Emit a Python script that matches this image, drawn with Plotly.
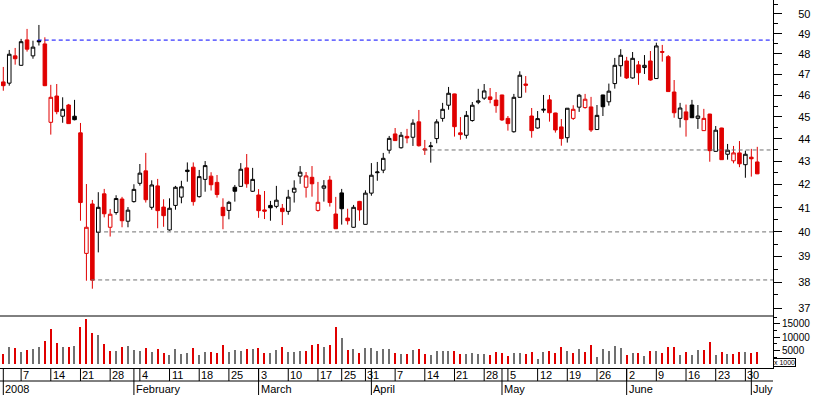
import math
import pandas as pd
import plotly.graph_objects as go

# ---------------- data ----------------
holidays = ["2008-03-21", "2008-03-24", "2008-05-01"]
dates = [d for d in pd.bdate_range("2008-01-02", "2008-07-02")
         if d.strftime("%Y-%m-%d") not in holidays]

opens = [46.64, 46.58, 47.90, 47.44, 48.69, 47.90, 48.65, 48.49, 44.75, 45.97,
         45.03, 45.55, 45.03, 44.27, 39.13, 41.16, 39.98, 41.59, 40.19, 40.80,
         41.37, 40.44, 41.26, 42.04, 42.58, 41.02, 41.93, 41.03, 40.08, 41.10,
         41.45, 42.55, 42.74, 41.47, 42.21, 42.35, 42.08, 41.02, 40.89, 41.87,
         41.91, 42.71, 41.70, 41.54, 40.91, 41.10, 41.06, 40.98, 40.85, 41.66,
         42.35, 41.87, 42.30, 40.89, 41.83, 42.18, 40.74, 41.63, 40.57, 40.19,
         41.27, 40.31, 41.62, 42.50, 42.61, 43.49, 44.22, 43.60, 44.11, 44.07,
         44.77, 43.55, 43.65, 44.01, 44.93, 45.54, 46.07, 44.27, 44.16, 44.83,
         45.68, 45.87, 45.93, 45.78, 46.02, 44.93, 44.32, 45.91, 46.54, 45.04,
         44.49, 45.31, 45.79, 45.18, 44.54, 44.05, 44.93, 45.45, 45.43, 45.46,
         44.42, 46.02, 45.70, 46.56, 47.42, 47.65, 46.83, 47.46, 47.33, 47.65,
         46.80, 48.11, 47.86, 46.16, 44.93, 45.23, 45.55, 44.93, 44.37, 45.13,
         43.44, 44.49, 43.31, 43.02, 43.37, 42.85, 43.18, 42.97]

highs = [47.36, 48.19, 48.29, 48.74, 49.24, 48.65, 49.44, 48.82, 46.50, 46.54,
         45.91, 45.60, 45.79, 44.72, 42.01, 41.33, 41.66, 41.80, 40.95, 41.53,
         41.46, 41.03, 42.00, 42.88, 43.37, 42.17, 42.23, 41.36, 41.40, 41.93,
         42.15, 42.95, 42.95, 42.62, 43.01, 42.52, 42.40, 41.40, 41.29, 41.97,
         42.92, 43.32, 42.71, 41.79, 41.71, 41.29, 41.93, 41.16, 41.76, 42.17,
         42.79, 42.53, 42.79, 42.10, 42.18, 42.36, 41.46, 41.80, 40.96, 41.12,
         41.29, 41.74, 42.92, 42.97, 43.37, 44.13, 44.49, 44.31, 44.45, 44.89,
         45.32, 43.95, 43.86, 44.89, 45.65, 46.40, 46.08, 44.99, 45.27, 45.69,
         46.31, 46.54, 46.35, 46.16, 46.03, 45.04, 46.07, 47.15, 46.92, 45.41,
         45.27, 46.02, 46.02, 45.19, 44.90, 45.41, 45.54, 46.07, 46.07, 45.93,
         45.55, 46.03, 46.56, 47.80, 48.23, 47.85, 48.09, 47.65, 47.94, 48.14,
         48.55, 48.44, 47.94, 46.73, 45.65, 45.57, 45.79, 45.55, 45.37, 45.14,
         44.58, 44.50, 43.77, 43.68, 43.90, 43.47, 43.55, 43.64]

lows = [46.22, 46.46, 47.47, 47.42, 48.11, 47.76, 48.41, 46.44, 44.19, 45.12,
        44.73, 44.68, 44.84, 40.46, 38.05, 37.74, 39.17, 40.60, 39.81, 40.71,
        40.19, 40.19, 41.22, 41.94, 41.22, 40.92, 40.15, 40.21, 40.05, 40.92,
        41.19, 42.11, 41.09, 41.43, 41.68, 41.73, 41.43, 40.11, 40.52, 41.26,
        41.89, 41.85, 41.67, 40.58, 40.53, 40.46, 40.98, 40.28, 40.71, 41.22,
        42.02, 41.43, 41.47, 40.84, 41.26, 41.05, 40.12, 40.30, 40.30, 40.17,
        40.46, 40.30, 41.51, 42.15, 42.48, 43.34, 43.90, 43.56, 43.80, 43.68,
        43.65, 43.28, 42.94, 43.80, 44.78, 45.33, 44.10, 43.96, 44.01, 44.78,
        45.59, 45.79, 45.63, 45.19, 44.81, 44.37, 44.28, 45.89, 46.13, 44.05,
        44.46, 45.19, 44.78, 44.28, 43.69, 43.83, 44.86, 45.23, 45.38, 44.31,
        44.40, 45.04, 45.52, 46.32, 46.89, 46.78, 46.79, 46.50, 47.02, 46.70,
        46.79, 47.62, 46.17, 44.96, 44.51, 44.10, 44.95, 44.45, 44.36, 42.98,
        43.42, 43.06, 43.07, 42.91, 42.74, 42.28, 42.33, 42.44]

closes = [46.46, 47.98, 47.76, 48.60, 48.23, 48.33, 48.60, 46.46, 45.91, 45.24,
          45.35, 44.69, 44.87, 41.22, 40.19, 38.07, 41.02, 40.75, 40.73, 41.39,
          40.46, 40.90, 41.78, 42.48, 41.34, 41.97, 40.88, 40.67, 40.98, 41.87,
          41.89, 42.61, 41.26, 42.33, 42.81, 41.98, 41.56, 40.67, 41.23, 41.70,
          42.65, 42.02, 42.21, 40.88, 40.86, 41.00, 41.32, 40.84, 41.45, 41.83,
          42.52, 42.36, 42.02, 41.23, 41.93, 41.22, 40.13, 40.96, 40.46, 41.02,
          40.91, 41.62, 42.39, 42.53, 43.13, 44.02, 43.92, 44.16, 44.04, 44.71,
          43.69, 43.50, 43.68, 44.77, 45.35, 46.10, 44.55, 44.19, 45.07, 45.54,
          45.74, 46.21, 45.81, 45.52, 44.86, 44.69, 45.91, 46.96, 46.48, 44.37,
          44.92, 45.35, 45.19, 44.40, 44.01, 45.40, 45.35, 46.01, 45.82, 44.40,
          45.07, 45.47, 46.20, 47.44, 47.93, 46.83, 47.78, 47.08, 47.44, 46.73,
          48.39, 48.08, 46.18, 45.19, 45.41, 44.87, 44.96, 45.04, 44.93, 43.47,
          44.39, 43.07, 43.49, 43.37, 42.89, 43.31, 43.11, 42.45]

volumes_k = [3900, 6400, 6000, 4500, 5400, 5600, 6500, 8600, 13100, 7900,
             6400, 6400, 6900, 13900, 16900, 11600, 10900, 7500, 4900, 4900,
             6400, 6900, 5100, 4900, 6000, 4500, 5600, 4100, 3400, 5600,
             3700, 4100, 6000, 3400, 4500, 4500, 4100, 7100, 4500, 5200,
             4900, 5600, 5600, 6000, 4100, 4100, 5200, 6400, 4500, 4500,
             4900, 4900, 7100, 7500, 6400, 7100, 13900, 9700, 5200, 5600,
             4100, 6000, 6000, 4900, 5600, 5600, 4100, 3700, 3800, 5200,
             5600, 3900, 3400, 4900, 4900, 4700, 4900, 3900, 3900, 4300,
             3700, 3600, 3400, 4500, 4100, 3000, 4100, 4100, 3900, 4500,
             1900, 4500, 4900, 4100, 6400, 4900, 4100, 5600, 4500, 7100,
             2600, 5600, 4900, 6700, 6000, 3400, 4100, 4100, 3000, 4900,
             4900, 4100, 6400, 6400, 3400, 4500, 3400, 5200, 5200, 8200,
             3400, 4500, 3700, 3700, 4500, 4500, 4100, 4500]

# horizontal support / resistance levels and the session they start from
level_values = [48.68, 43.50, 40.00, 38.08]
level_starts = ["2008-01-10", "2008-04-14", "2008-01-24", "2008-01-23"]
level_kinds = ["resistance", "support", "support", "support"]

price_ticks = list(range(37, 51))
price_minor = [v + 0.5 for v in range(37, 51)]
volume_ticks = [5000, 10000, 15000]
volume_minor = [2500, 7500, 12500, 17500]
month_names = {1: "2008", 2: "February", 3: "March", 4: "April",
               5: "May", 6: "June", 7: "July"}

# ---------------- derived ----------------
n = len(dates)
idx = list(range(n))
date_str = [d.strftime("%Y-%m-%d") for d in dates]
pos_of = {s: i for i, s in enumerate(date_str)}

RED = "#e00000"
BLACK = "#000000"
GRAY = "#707070"

is_red = [True] + [closes[i] < closes[i - 1] for i in range(1, n)]
is_hollow = [closes[i] > opens[i] for i in range(n)]

fig = go.Figure()

groups = [
    (False, False, "white", BLACK),  # hollow black
    (True, False, "white", RED),     # hollow red
    (True, True, RED, RED),          # filled red
    (False, True, BLACK, BLACK),     # filled black
]
for red, filled, fill, line in groups:
    sel = [i for i in idx if is_red[i] == red and (not is_hollow[i]) == filled]
    if not sel:
        continue
    style = dict(fillcolor=fill, line=dict(color=line, width=1))
    fig.add_trace(go.Candlestick(
        x=sel,
        open=[opens[i] for i in sel],
        high=[highs[i] for i in sel],
        low=[lows[i] for i in sel],
        close=[closes[i] for i in sel],
        text=[date_str[i] for i in sel],
        increasing=style, decreasing=style,
        whiskerwidth=0, showlegend=False,
        xaxis="x", yaxis="y", hoverinfo="text+y",
    ))

fig.add_trace(go.Bar(
    x=idx, y=volumes_k, width=0.2,
    marker=dict(color=[RED if r else GRAY for r in is_red], line=dict(width=0)),
    showlegend=False, xaxis="x", yaxis="y2", hoverinfo="y",
))

# ---------------- geometry ----------------
W, H = 817, 395
ML, MR, MT, MB = 0, 44, 0, 27
PH = H - MT - MB            # 368
pane_split = 52 / PH        # price pane bottom (volume pane height 52px)
x_range = [-0.556, 129.65]

shapes = []
shapes.append(dict(type="line", xref="paper", yref="paper", x0=0, x1=1,
                   y0=pane_split, y1=pane_split, line=dict(color=BLACK, width=1)))
row_rule = -13 / PH
shapes.append(dict(type="line", xref="paper", yref="paper", x0=0, x1=1,
                   y0=row_rule, y1=row_rule, line=dict(color=BLACK, width=1)))

for val, start, kind in zip(level_values, level_starts, level_kinds):
    col = "#0000ff" if kind == "resistance" else "#707070"
    shapes.append(dict(type="line", xref="x", yref="y",
                       x0=pos_of[start] - 0.2, x1=x_range[1] + 2,
                       y0=val, y1=val,
                       line=dict(color=col, width=1, dash="4px,3px")))

annotations = []
week_starts = []
month_starts = []
for i in idx:
    if i == 0:
        month_starts.append(i)
        continue
    if dates[i].month != dates[i - 1].month:
        month_starts.append(i)
    if dates[i].isocalendar()[1] != dates[i - 1].isocalendar()[1]:
        week_starts.append(i)

lab_font = dict(family="Liberation Sans", size=11, color=BLACK)
for i in week_starts:
    shapes.append(dict(type="line", xref="x", yref="paper", x0=i, x1=i,
                       y0=0, y1=row_rule, line=dict(color=BLACK, width=1)))
    annotations.append(dict(x=i, y=-7.0 / PH, xref="x", yref="paper",
                            text=str(dates[i].day), showarrow=False,
                            xanchor="left", yanchor="middle", font=lab_font))
for i in month_starts:
    shapes.append(dict(type="line", xref="x", yref="paper", x0=i, x1=i,
                       y0=0, y1=-30 / PH, line=dict(color=BLACK, width=1)))
    annotations.append(dict(x=i, y=-20.5 / PH, xref="x", yref="paper",
                            text=month_names[dates[i].month], showarrow=False,
                            xanchor="left", yanchor="middle", font=lab_font))

annotations.append(dict(x=1, y=6 / PH, xref="paper", yref="paper", text="x 1000",
                        showarrow=False, xanchor="left", yanchor="middle",
                        font=dict(family="Liberation Sans", size=7, color=BLACK),
                        bordercolor=BLACK, borderwidth=1, borderpad=0,
                        bgcolor="white"))

fig.update_layout(
    width=W, height=H,
    margin=dict(l=ML, r=MR, t=MT, b=MB, pad=0),
    paper_bgcolor="white", plot_bgcolor="white",
    showlegend=False, boxgap=0.4, boxgroupgap=0,
    bargap=0,
    hovermode="closest",
    xaxis=dict(range=x_range, anchor="y2", showgrid=False, zeroline=False,
               showticklabels=False, ticks="", showline=True,
               linecolor=BLACK, linewidth=1,
               rangeslider=dict(visible=False), fixedrange=True),
    yaxis=dict(domain=[pane_split, 1], type="log",
               range=[math.log10(36.70), math.log10(50.72)],
               side="right", anchor="x", showgrid=False, zeroline=False,
               showline=True, linecolor=BLACK, linewidth=1,
               ticks="outside", ticklen=8, tickcolor=BLACK, tickwidth=1,
               tickmode="array", tickvals=price_ticks,
               ticktext=[str(v) for v in price_ticks],
               tickfont=lab_font, ticklabelstandoff=14,
               minor=dict(tickmode="array", tickvals=price_minor, ticks="outside",
                          ticklen=4, tickcolor=BLACK, tickwidth=1, showgrid=False),
               fixedrange=True),
    yaxis2=dict(domain=[0, pane_split], range=[-1500, 17980],
                side="right", anchor="x", showgrid=False, zeroline=False,
                showline=True, linecolor=BLACK, linewidth=1,
                ticks="outside", ticklen=6, tickcolor=BLACK, tickwidth=1,
                tickmode="array", tickvals=volume_ticks,
                ticktext=[str(v) for v in volume_ticks],
                tickfont=dict(family="Liberation Sans", size=10, color=BLACK),
                minor=dict(tickmode="array", tickvals=volume_minor, ticks="outside",
                           ticklen=3, tickcolor=BLACK, tickwidth=1, showgrid=False),
                fixedrange=True),
    shapes=shapes,
    annotations=annotations,
)

fig.write_html("out.html",
               config={"displayModeBar": False},
               post_script="document.body.style.margin='0px';"
                           "document.body.style.overflow='hidden';")
